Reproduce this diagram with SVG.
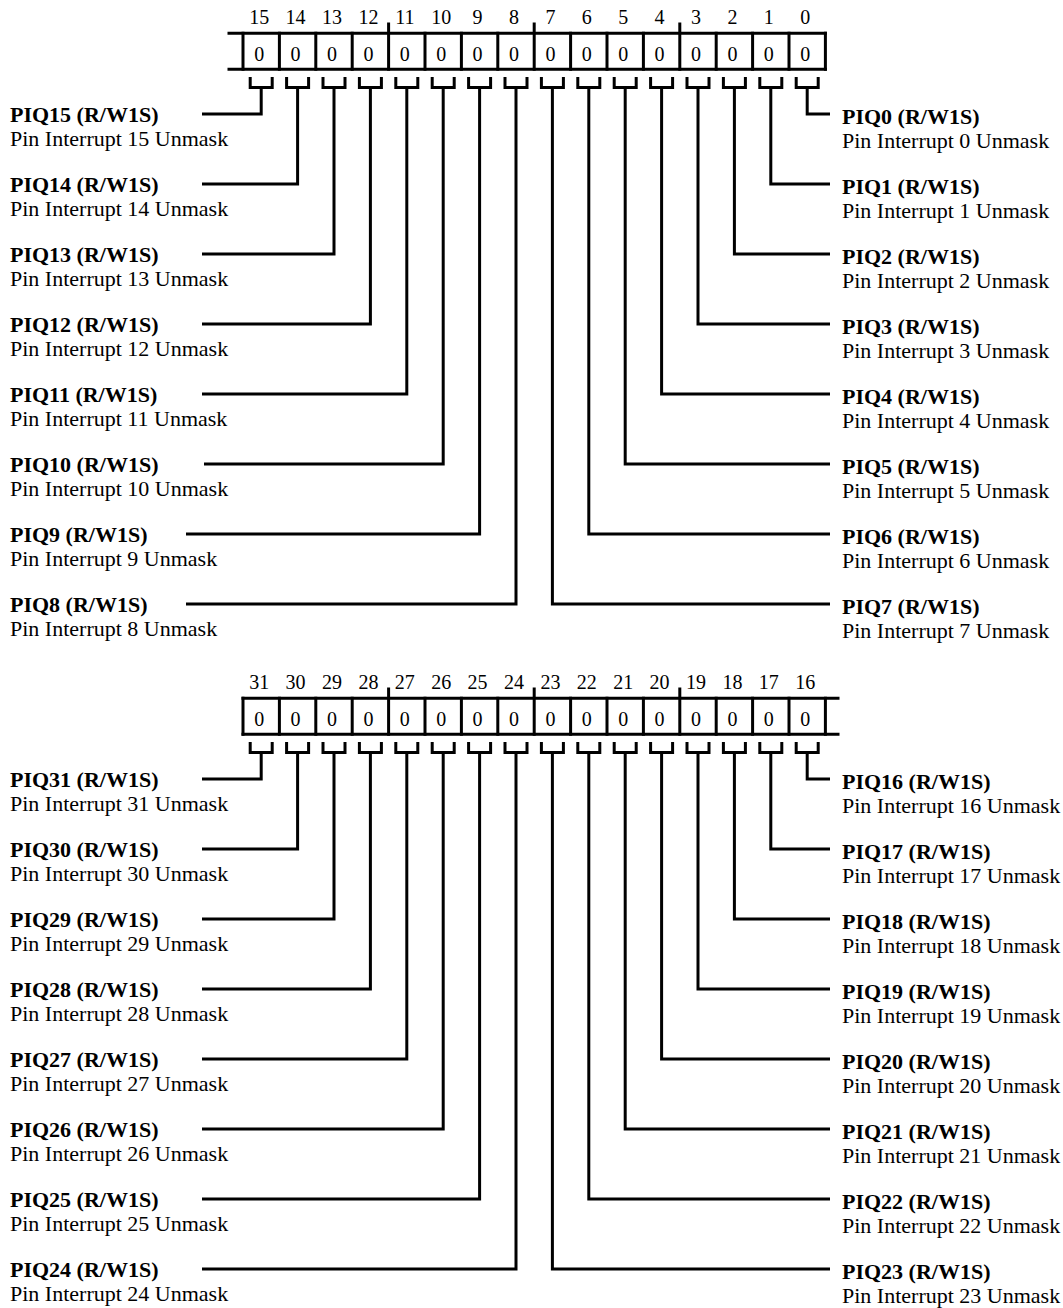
<svg xmlns="http://www.w3.org/2000/svg" width="1063" height="1308" viewBox="0 0 1063 1308">
<style>
.ln{stroke:#000;stroke-width:3;fill:none;stroke-linecap:square;stroke-linejoin:miter}
.cn{stroke:#000;stroke-width:3;fill:none;stroke-linecap:butt;stroke-linejoin:miter}
text{font-family:"Liberation Serif","Times New Roman",serif;fill:#000}
.t{font-size:22px}
.b{font-weight:bold}
.num{font-size:20px;text-anchor:middle}
.z{font-size:20px;text-anchor:middle}
</style>
<defs>
<path id="brk" class="cn" d="M250.2 77V87.5H272.2V77M286.6 77V87.5H308.6V77M323 77V87.5H345V77M359.4 77V87.5H381.4V77M395.8 77V87.5H417.8V77M432.2 77V87.5H454.2V77M468.6 77V87.5H490.6V77M505 77V87.5H527V77M541.4 77V87.5H563.4V77M577.8 77V87.5H599.8V77M614.2 77V87.5H636.2V77M650.6 77V87.5H672.6V77M687 77V87.5H709V77M723.4 77V87.5H745.4V77M759.8 77V87.5H781.8V77M796.2 77V87.5H818.2V77"/>
<path id="cells" class="ln" d="M243 33.3V69.3M279.4 33.3V69.3M315.8 33.3V69.3M352.2 33.3V69.3M388.6 24V69.3M425 33.3V69.3M461.4 33.3V69.3M497.8 33.3V69.3M534.2 24V69.3M570.6 33.3V69.3M607 33.3V69.3M643.4 33.3V69.3M679.8 24V69.3M716.2 33.3V69.3M752.6 33.3V69.3M789 33.3V69.3M825.4 33.3V69.3"/>
<g id="zeros">
<text class="z" x="259.2" y="60.5">0</text><text class="z" x="295.6" y="60.5">0</text><text class="z" x="332" y="60.5">0</text><text class="z" x="368.4" y="60.5">0</text><text class="z" x="404.8" y="60.5">0</text><text class="z" x="441.2" y="60.5">0</text><text class="z" x="477.6" y="60.5">0</text><text class="z" x="514" y="60.5">0</text><text class="z" x="550.4" y="60.5">0</text><text class="z" x="586.8" y="60.5">0</text><text class="z" x="623.2" y="60.5">0</text><text class="z" x="659.6" y="60.5">0</text><text class="z" x="696" y="60.5">0</text><text class="z" x="732.4" y="60.5">0</text><text class="z" x="768.8" y="60.5">0</text><text class="z" x="805.2" y="60.5">0</text>
</g>
</defs>

<g id="register-15-0">
<path class="ln" d="M229 33.3H825.4M229 69.3H825.4"/>
<use href="#cells"/>
<use href="#brk"/>
<use href="#zeros"/>
<text class="num" x="259.2" y="23.5">15</text><text class="num" x="295.6" y="23.5">14</text><text class="num" x="332" y="23.5">13</text><text class="num" x="368.4" y="23.5">12</text><text class="num" x="404.8" y="23.5">11</text><text class="num" x="441.2" y="23.5">10</text><text class="num" x="477.6" y="23.5">9</text><text class="num" x="514" y="23.5">8</text><text class="num" x="550.4" y="23.5">7</text><text class="num" x="586.8" y="23.5">6</text><text class="num" x="623.2" y="23.5">5</text><text class="num" x="659.6" y="23.5">4</text><text class="num" x="696" y="23.5">3</text><text class="num" x="732.4" y="23.5">2</text><text class="num" x="768.8" y="23.5">1</text><text class="num" x="805.2" y="23.5">0</text>
</g>

<g id="register-31-16" transform="translate(0,665)">
<path class="ln" d="M243 33.3H838M243 69.3H838"/>
<use href="#cells"/>
<use href="#brk"/>
<use href="#zeros"/>
<text class="num" x="259.2" y="23.5">31</text><text class="num" x="295.6" y="23.5">30</text><text class="num" x="332" y="23.5">29</text><text class="num" x="368.4" y="23.5">28</text><text class="num" x="404.8" y="23.5">27</text><text class="num" x="441.2" y="23.5">26</text><text class="num" x="477.6" y="23.5">25</text><text class="num" x="514" y="23.5">24</text><text class="num" x="550.4" y="23.5">23</text><text class="num" x="586.8" y="23.5">22</text><text class="num" x="623.2" y="23.5">21</text><text class="num" x="659.6" y="23.5">20</text><text class="num" x="696" y="23.5">19</text><text class="num" x="732.4" y="23.5">18</text><text class="num" x="768.8" y="23.5">17</text><text class="num" x="805.2" y="23.5">16</text>
</g>

<g id="connectors">
<path class="cn" d="M261.2 87.5V114H202M297.6 87.5V184H202M334 87.5V254H202M370.4 87.5V324H202M406.8 87.5V394H202M443.2 87.5V464H204M479.6 87.5V534H186M516 87.5V604H186"/>
<path class="cn" d="M807.2 87.5V114H830M770.8 87.5V184H830M734.4 87.5V254H830M698 87.5V324H830M661.6 87.5V394H830M625.2 87.5V464H830M588.8 87.5V534H830M552.4 87.5V604H830"/>
<path class="cn" d="M261.2 752.5V779H202M297.6 752.5V849H202M334 752.5V919H202M370.4 752.5V989H202M406.8 752.5V1059H202M443.2 752.5V1129H202M479.6 752.5V1199H202M516 752.5V1269H202"/>
<path class="cn" d="M807.2 752.5V779H830M770.8 752.5V849H830M734.4 752.5V919H830M698 752.5V989H830M661.6 752.5V1059H830M625.2 752.5V1129H830M588.8 752.5V1199H830M552.4 752.5V1269H830"/>
</g>

<g id="piq15"><text class="t b" x="10" y="122">PIQ15 (R/W1S)</text><text class="t" x="10" y="146">Pin Interrupt 15 Unmask</text></g>
<g id="piq14"><text class="t b" x="10" y="192">PIQ14 (R/W1S)</text><text class="t" x="10" y="216">Pin Interrupt 14 Unmask</text></g>
<g id="piq13"><text class="t b" x="10" y="262">PIQ13 (R/W1S)</text><text class="t" x="10" y="286">Pin Interrupt 13 Unmask</text></g>
<g id="piq12"><text class="t b" x="10" y="332">PIQ12 (R/W1S)</text><text class="t" x="10" y="356">Pin Interrupt 12 Unmask</text></g>
<g id="piq11"><text class="t b" x="10" y="402">PIQ11 (R/W1S)</text><text class="t" x="10" y="426">Pin Interrupt 11 Unmask</text></g>
<g id="piq10"><text class="t b" x="10" y="472">PIQ10 (R/W1S)</text><text class="t" x="10" y="496">Pin Interrupt 10 Unmask</text></g>
<g id="piq9"><text class="t b" x="10" y="542">PIQ9 (R/W1S)</text><text class="t" x="10" y="566">Pin Interrupt 9 Unmask</text></g>
<g id="piq8"><text class="t b" x="10" y="612">PIQ8 (R/W1S)</text><text class="t" x="10" y="636">Pin Interrupt 8 Unmask</text></g>

<g id="piq0"><text class="t b" x="842" y="123.5">PIQ0 (R/W1S)</text><text class="t" x="842" y="147.5">Pin Interrupt 0 Unmask</text></g>
<g id="piq1"><text class="t b" x="842" y="193.5">PIQ1 (R/W1S)</text><text class="t" x="842" y="217.5">Pin Interrupt 1 Unmask</text></g>
<g id="piq2"><text class="t b" x="842" y="263.5">PIQ2 (R/W1S)</text><text class="t" x="842" y="287.5">Pin Interrupt 2 Unmask</text></g>
<g id="piq3"><text class="t b" x="842" y="333.5">PIQ3 (R/W1S)</text><text class="t" x="842" y="357.5">Pin Interrupt 3 Unmask</text></g>
<g id="piq4"><text class="t b" x="842" y="403.5">PIQ4 (R/W1S)</text><text class="t" x="842" y="427.5">Pin Interrupt 4 Unmask</text></g>
<g id="piq5"><text class="t b" x="842" y="473.5">PIQ5 (R/W1S)</text><text class="t" x="842" y="497.5">Pin Interrupt 5 Unmask</text></g>
<g id="piq6"><text class="t b" x="842" y="543.5">PIQ6 (R/W1S)</text><text class="t" x="842" y="567.5">Pin Interrupt 6 Unmask</text></g>
<g id="piq7"><text class="t b" x="842" y="613.5">PIQ7 (R/W1S)</text><text class="t" x="842" y="637.5">Pin Interrupt 7 Unmask</text></g>

<g id="piq31"><text class="t b" x="10" y="787">PIQ31 (R/W1S)</text><text class="t" x="10" y="811">Pin Interrupt 31 Unmask</text></g>
<g id="piq30"><text class="t b" x="10" y="857">PIQ30 (R/W1S)</text><text class="t" x="10" y="881">Pin Interrupt 30 Unmask</text></g>
<g id="piq29"><text class="t b" x="10" y="927">PIQ29 (R/W1S)</text><text class="t" x="10" y="951">Pin Interrupt 29 Unmask</text></g>
<g id="piq28"><text class="t b" x="10" y="997">PIQ28 (R/W1S)</text><text class="t" x="10" y="1021">Pin Interrupt 28 Unmask</text></g>
<g id="piq27"><text class="t b" x="10" y="1067">PIQ27 (R/W1S)</text><text class="t" x="10" y="1091">Pin Interrupt 27 Unmask</text></g>
<g id="piq26"><text class="t b" x="10" y="1137">PIQ26 (R/W1S)</text><text class="t" x="10" y="1161">Pin Interrupt 26 Unmask</text></g>
<g id="piq25"><text class="t b" x="10" y="1207">PIQ25 (R/W1S)</text><text class="t" x="10" y="1231">Pin Interrupt 25 Unmask</text></g>
<g id="piq24"><text class="t b" x="10" y="1277">PIQ24 (R/W1S)</text><text class="t" x="10" y="1301">Pin Interrupt 24 Unmask</text></g>

<g id="piq16"><text class="t b" x="842" y="788.5">PIQ16 (R/W1S)</text><text class="t" x="842" y="812.5">Pin Interrupt 16 Unmask</text></g>
<g id="piq17"><text class="t b" x="842" y="858.5">PIQ17 (R/W1S)</text><text class="t" x="842" y="882.5">Pin Interrupt 17 Unmask</text></g>
<g id="piq18"><text class="t b" x="842" y="928.5">PIQ18 (R/W1S)</text><text class="t" x="842" y="952.5">Pin Interrupt 18 Unmask</text></g>
<g id="piq19"><text class="t b" x="842" y="998.5">PIQ19 (R/W1S)</text><text class="t" x="842" y="1022.5">Pin Interrupt 19 Unmask</text></g>
<g id="piq20"><text class="t b" x="842" y="1068.5">PIQ20 (R/W1S)</text><text class="t" x="842" y="1092.5">Pin Interrupt 20 Unmask</text></g>
<g id="piq21"><text class="t b" x="842" y="1138.5">PIQ21 (R/W1S)</text><text class="t" x="842" y="1162.5">Pin Interrupt 21 Unmask</text></g>
<g id="piq22"><text class="t b" x="842" y="1208.5">PIQ22 (R/W1S)</text><text class="t" x="842" y="1232.5">Pin Interrupt 22 Unmask</text></g>
<g id="piq23"><text class="t b" x="842" y="1278.5">PIQ23 (R/W1S)</text><text class="t" x="842" y="1302.5">Pin Interrupt 23 Unmask</text></g>
</svg>
